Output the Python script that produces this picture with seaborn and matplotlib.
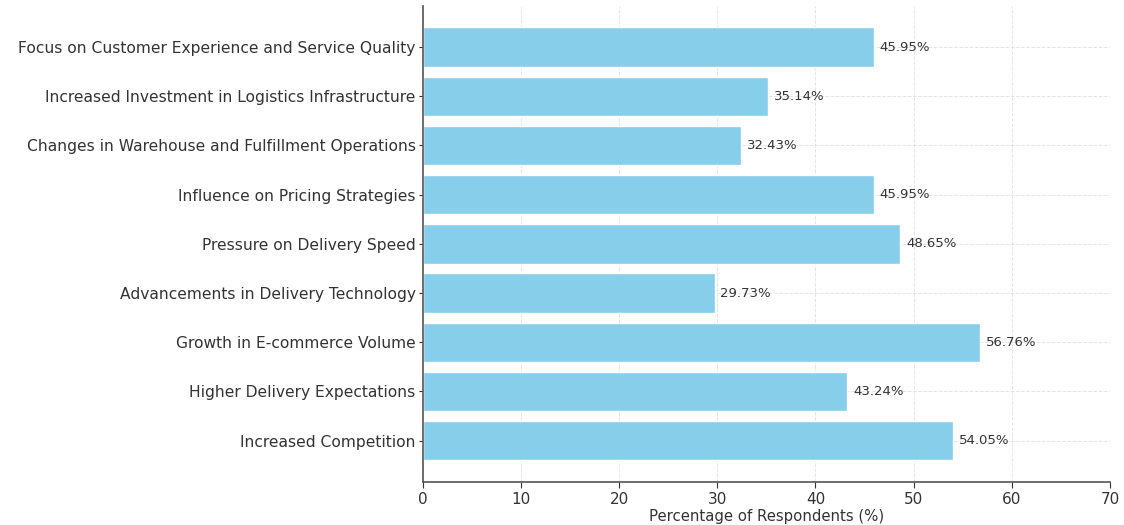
import matplotlib
matplotlib.use("Agg")
import matplotlib.pyplot as plt
import seaborn as sns
import pandas as pd

factors = [
    "Focus on Customer Experience and Service Quality",
    "Increased Investment in Logistics Infrastructure",
    "Changes in Warehouse and Fulfillment Operations",
    "Influence on Pricing Strategies",
    "Pressure on Delivery Speed",
    "Advancements in Delivery Technology",
    "Growth in E-commerce Volume",
    "Higher Delivery Expectations",
    "Increased Competition",
]
percentages = [45.95, 35.14, 32.43, 45.95, 48.65, 29.73, 56.76, 43.24, 54.05]

df = pd.DataFrame({"Factor": factors, "Percentage": percentages})

sns.set_style("white")
plt.rcParams["font.family"] = ["DejaVu Sans"]

fig = plt.figure(figsize=(11.24, 5.25), dpi=100)
ax = fig.add_axes([0.376, 0.082, 0.6115, 0.907])

sns.barplot(data=df, y="Factor", x="Percentage", color="skyblue",
            width=0.8, saturation=1, ax=ax, zorder=2)

for i, v in enumerate(df["Percentage"]):
    ax.text(v + 0.6, i, f"{v:.2f}%", va="center", ha="left", fontsize=9.5, color="#333333")

ax.set_xlim(0, 70)
ax.set_ylim(8.84, -0.84)
ax.set_xticks(range(0, 71, 10))
ax.set_xlabel("Percentage of Respondents (%)", fontsize=10.7, color="#333333", labelpad=2)
ax.set_ylabel("")
ax.tick_params(axis="y", labelsize=11.2, colors="#333333", length=3, left=True, pad=2)
ax.tick_params(axis="x", labelsize=11, colors="#333333", length=4, bottom=True, pad=3)
ax.grid(True, linestyle="--", linewidth=0.7, color="#dddddd", alpha=0.8, zorder=0)
ax.set_axisbelow(True)
for side in ["top", "right"]:
    ax.spines[side].set_visible(False)
for side in ["left", "bottom"]:
    ax.spines[side].set_color("#555555")
    ax.spines[side].set_linewidth(1.2)

fig.savefig("out.png", dpi=100)
